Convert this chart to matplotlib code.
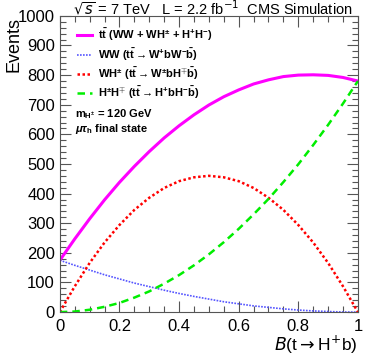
import matplotlib
matplotlib.use('Agg')
import matplotlib.pyplot as plt
from matplotlib.ticker import MultipleLocator

plt.rcParams['font.family'] = ['Liberation Sans', 'DejaVu Sans']
plt.rcParams['mathtext.fontset'] = 'custom'
plt.rcParams['mathtext.rm'] = 'Liberation Sans:bold'
plt.rcParams['mathtext.it'] = 'Liberation Sans:italic:bold'
plt.rcParams['mathtext.bf'] = 'Liberation Sans:bold'

# B(t -> H+ b)
br = [0.0, 0.05, 0.1, 0.15, 0.2, 0.25, 0.3, 0.35, 0.4, 0.45, 0.5,
      0.55, 0.6, 0.65, 0.7, 0.75, 0.8, 0.85, 0.9, 0.95, 1.0]
ww = [175, 158, 142, 126, 112, 98, 86, 74, 63, 53, 44,
      35, 28, 21, 16, 11, 7, 4, 2, 0.4, 0]
wh = [0, 87, 166, 235, 294, 345, 386, 419, 442, 455, 460,
      455, 442, 419, 386, 345, 294, 235, 166, 87, 0]
hh = [0, 2, 8, 18, 31, 49, 70, 96, 125, 158, 195,
      236, 281, 330, 382, 439, 499, 564, 632, 704, 780]
total = [175, 247, 315, 379, 438, 492, 542, 588, 629, 666, 699,
         727, 750, 770, 784, 795, 800, 801, 799, 792, 780]

xtick_labels = ['0', '0.2', '0.4', '0.6', '0.8', '1']

fig = plt.figure(figsize=(3.74, 3.60), dpi=100)
ax = fig.add_axes([0.160, 0.133, 0.797, 0.823])

ax.plot(br, total, color='#ff00ff', lw=2.2, label=r'$\mathbf{t\bar{t}}$ (WW + WH$^{\pm}$ + H$^{+}$H$^{-}$)')
ax.plot(br, ww, color='#5555ff', lw=1.2, ls=(0, (1, 0.8)), label=r'WW (t$\bar{\mathrm{t}}$$\rightarrow$W$^{+}$bW$^{-}\bar{\mathrm{b}}$)')
ax.plot(br, wh, color='#ff0000', lw=1.8, ls=(0, (1, 1)), label=r'WH$^{\pm}$ (t$\bar{\mathrm{t}}$$\rightarrow$W$^{\pm}$bH$^{\mp}\bar{\mathrm{b}}$)')
ax.plot(br, hh, color='#00ee00', lw=1.8, ls=(0, (3, 2)), label=r'H$^{\pm}$H$^{\mp}$ (t$\bar{\mathrm{t}}$$\rightarrow$H$^{+}$bH$^{-}\bar{\mathrm{b}}$)')

ax.set_xlim(0, 1)
ax.set_ylim(0, 1000)
ax.set_xticks([0, 0.2, 0.4, 0.6, 0.8, 1.0])
ax.set_xticklabels(xtick_labels)
ax.xaxis.set_minor_locator(MultipleLocator(0.05))
ax.yaxis.set_major_locator(MultipleLocator(100))
ax.yaxis.set_minor_locator(MultipleLocator(20))
ax.tick_params(which='both', direction='in', top=True, right=True, labelsize=12, width=0.8, color='#555555')
ax.tick_params(which='major', length=8)
ax.tick_params(which='minor', length=4)
ax.tick_params(axis='x', pad=5)
for s in ax.spines.values():
    s.set_color('#555555')

fig.text(0.037, 0.953, 'Events', rotation=90, ha='center', va='top', fontsize=13)
fig.text(0.957, 0.026, r'$\mathit{B}$(t$\rightarrow$H$^{+}$b)', ha='right', va='baseline', fontsize=12.5,
         math_fontfamily='dejavusans')

fig.text(0.195, 0.960, r'$\sqrt{s}$ = 7 TeV   L = 2.2 fb$^{-1}$  CMS Simulation', ha='left', va='baseline',
         fontsize=10.5, math_fontfamily='dejavusans')

leg = ax.legend(loc='upper left', bbox_to_anchor=(0.035, 0.985), frameon=False, handlelength=1.4,
                handletextpad=0.5, prop={'weight': 'bold', 'size': 8}, labelspacing=0.25,
                borderaxespad=0.2)

ax.text(0.05, 0.659, r'm$_{\mathregular{H^{\pm}}}$ = 120 GeV', transform=ax.transAxes, fontsize=8,
        fontweight='bold', va='baseline')
ax.text(0.05, 0.608, r'$\mu\tau_{\mathrm{h}}$ final state', transform=ax.transAxes, fontsize=8,
        fontweight='bold', va='baseline')

fig.savefig('out.png', dpi=100)
